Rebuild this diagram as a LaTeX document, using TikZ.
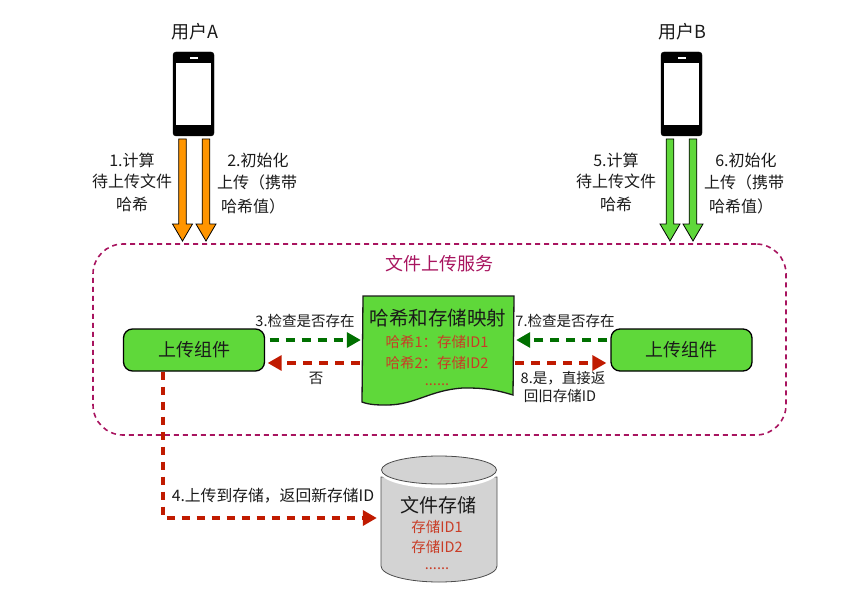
\documentclass[tikz,border=0pt]{standalone}
\usepackage{fontspec}
\setmainfont{Noto Sans CJK SC}
\usetikzlibrary{calc,arrows.meta}
\definecolor{cgreen}{HTML}{5FD83A}
\definecolor{corange}{HTML}{FF9500}
\definecolor{cdred}{HTML}{C01A00}
\definecolor{cdgreen}{HTML}{007000}
\definecolor{cserv}{HTML}{A8145F}
\definecolor{cgrey}{HTML}{D3D3D3}
\definecolor{cink}{HTML}{1A1A1A}
\tikzset{
 lab/.style={inner sep=0pt,text=cink,font=\fontsize{16}{16}\selectfont,anchor=center},
 smalllab/.style={lab,font=\fontsize{14.5}{14.5}\selectfont},
 redlab/.style={inner sep=0pt,text=cdred!85!white,font=\fontsize{14.5}{14.5}\selectfont,anchor=center},
 phone/.style={draw=black,fill=black,rounded corners=3pt,minimum width=41pt,minimum height=84pt,inner sep=0pt},
 screen/.style={fill=white,draw=none,minimum width=35pt,minimum height=62pt,inner sep=0pt},
 speaker/.style={fill=white,draw=none,minimum width=8pt,minimum height=2pt,inner sep=0pt},
 upbox/.style={draw=black,line width=1.3pt,fill=cgreen,rounded corners=9pt,minimum width=141pt,minimum height=42pt,inner sep=0pt,font=\fontsize{18}{18}\selectfont,text=cink},
 blockarrow/.style={draw=black,line width=.8pt,fill=#1,to path={let \p1=(\tikztostart),\p2=(\tikztotarget) in
   (\x1-3.8pt,\y1) -- (\x1+3.8pt,\y1) -- (\x1+3.8pt,\y2+17pt) -- (\x1+10pt,\y2+17pt) -- (\x2,\y2) -- (\x1-10pt,\y2+17pt) -- (\x1-3.8pt,\y2+17pt) -- cycle}},
 flow/.style={line width=3.2pt,draw=#1,dash pattern=on 9pt off 7pt,-{Triangle[length=14pt,width=15pt,fill=#1]}},
}
\begin{document}
\begin{tikzpicture}[x=1pt,y=-1pt]
\useasboundingbox (0,0) rectangle (858,604);
% service boundary
\node[draw=cserv,line width=1.6pt,dash pattern=on 5pt off 4pt,rounded corners=30pt,minimum width=693pt,minimum height=191pt,inner sep=0pt] (service) at (439.5,339.5) {};
\node[lab,text=cserv,font=\fontsize{18}{18}\selectfont] (servicet) at (439,264) {文件上传服务};
% phones
\node[phone] (pa) at (193.5,94) {};
\node[screen] (pas) at (193.5,94) {};
\node[speaker] (pasp) at (193.5,58) {};
\node[phone] (pb) at (681.5,94) {};
\node[screen] (pb2) at (681.5,94) {};
\node[speaker] (pbsp) at (681.5,58) {};
\node[lab,font=\fontsize{18}{18}\selectfont] (ua) at (195,32) {用户A};
\node[lab,font=\fontsize{18}{18}\selectfont] (ub) at (682,32) {用户B};
% block arrows
\coordinate (a1s) at (182.5,139); \coordinate (a1e) at (182.5,241);
\coordinate (a2s) at (206,139);   \coordinate (a2e) at (206,241);
\coordinate (b1s) at (670,139);   \coordinate (b1e) at (670,241);
\coordinate (b2s) at (693,139);   \coordinate (b2e) at (693,241);
\draw[blockarrow=corange] (a1s) to (a1e);
\draw[blockarrow=corange] (a2s) to (a2e);
\draw[blockarrow=cgreen] (b1s) to (b1e);
\draw[blockarrow=cgreen] (b2s) to (b2e);
% side labels
\node[lab] (l1a) at (132,160) {1.计算};
\node[lab] (l1b) at (132,181) {待上传文件};
\node[lab] (l1c) at (132,204) {哈希};
\node[lab] (l2a) at (258,160) {2.初始化};
\node[lab] (l2b) at (257,182) {上传（携带};
\node[lab] (l2c) at (253,206) {哈希值）};
\node[lab] (l5a) at (616,160) {5.计算};
\node[lab] (l5b) at (616,181) {待上传文件};
\node[lab] (l5c) at (616,204) {哈希};
\node[lab] (l6a) at (746,160) {6.初始化};
\node[lab] (l6b) at (744,182) {上传（携带};
\node[lab] (l6c) at (741,206) {哈希值）};
% upload boxes
\node[upbox] (upa) at (194,350) {上传组件};
\node[upbox] (upb) at (681.5,350) {上传组件};
% mapping document
\draw[draw=cink,line width=1.3pt,fill=cgreen] (363,296) -- (514,296) -- (513,395)
  .. controls (490,388) and (478,388) .. (463,388) .. controls (430,390) and (415,405) .. (387,405)
  .. controls (378,405) and (370,405) .. (362,402) -- cycle;
\node[inner sep=0pt,minimum width=151pt,minimum height=106pt] (map) at (438.5,349) {};
\node[lab,font=\fontsize{19.5}{19.5}\selectfont] (mt) at (438,318) {哈希和存储映射};
\node[redlab] (m1) at (437,342) {哈希1：存储ID1};
\node[redlab] (m2) at (437,363) {哈希2：存储ID2};
\node[redlab] (m3) at (437,385) {......};
% storage cylinder
\draw[draw=black!70,line width=.8pt,fill=cgrey] (381,477) -- (381,566)
  .. controls (381,575) and (407,582) .. (439,582) .. controls (471,582) and (497,575) .. (497,566) -- (497,477) -- cycle;
\draw[draw=white,line width=2.4pt,fill=white] (439,471) ellipse [x radius=58,y radius=16];
\draw[draw=black!70,line width=.8pt,fill=cgrey] (439,470) ellipse [x radius=57.5,y radius=14];
\node[inner sep=0pt,minimum width=116pt,minimum height=126pt] (store) at (439,519) {};
\node[lab,font=\fontsize{19}{19}\selectfont] (st) at (438,505) {文件存储};
\node[redlab] (s1) at (437,527) {存储ID1};
\node[redlab] (s2) at (437,547) {存储ID2};
\node[redlab] (s3) at (437,569) {......};
% connectors
\coordinate (y1) at (0,340);
\coordinate (y2) at (0,363);
\draw[flow=cdgreen] ($(upa.east |- y1)+(4.5,0)$) -- ($(map.west |- y1)+(-2,0)$);
\draw[flow=cdred] ($(map.west |- y2)+(-3,0)$) -- ($(upa.east |- y2)+(2.5,0)$);
\draw[flow=cdgreen] ($(upb.west |- y1)+(-3,0)$) -- ($(map.east |- y1)+(2,0)$);
\draw[flow=cdred] ($(map.east |- y2)+(1,0)$) -- ($(upb.west |- y2)+(-4,0)$);
\coordinate (c4x) at (163,0);
\coordinate (c4s) at (upa.south -| c4x);
\coordinate (c4m) at (163,518);
\coordinate (c4e) at ($(store.west |- c4m)+(-4,0)$);
\draw[flow=cdred,line width=3.6pt,dash pattern=on 8pt off 7pt] (c4s) -- (c4m) -- (c4e);
\node[smalllab] (l3) at (305,321) {3.检查是否存在};
\node[smalllab] (l7) at (565,321) {7.检查是否存在};
\node[smalllab] (lno) at (316,378) {否};
\node[smalllab] (l8a) at (563,378) {8.是，直接返};
\node[smalllab] (l8b) at (560,396) {回旧存储ID};
\node[lab,font=\fontsize{15.8}{15.8}\selectfont] (l4) at (273,496) {4.上传到存储，返回新存储ID};
\end{tikzpicture}
\end{document}
